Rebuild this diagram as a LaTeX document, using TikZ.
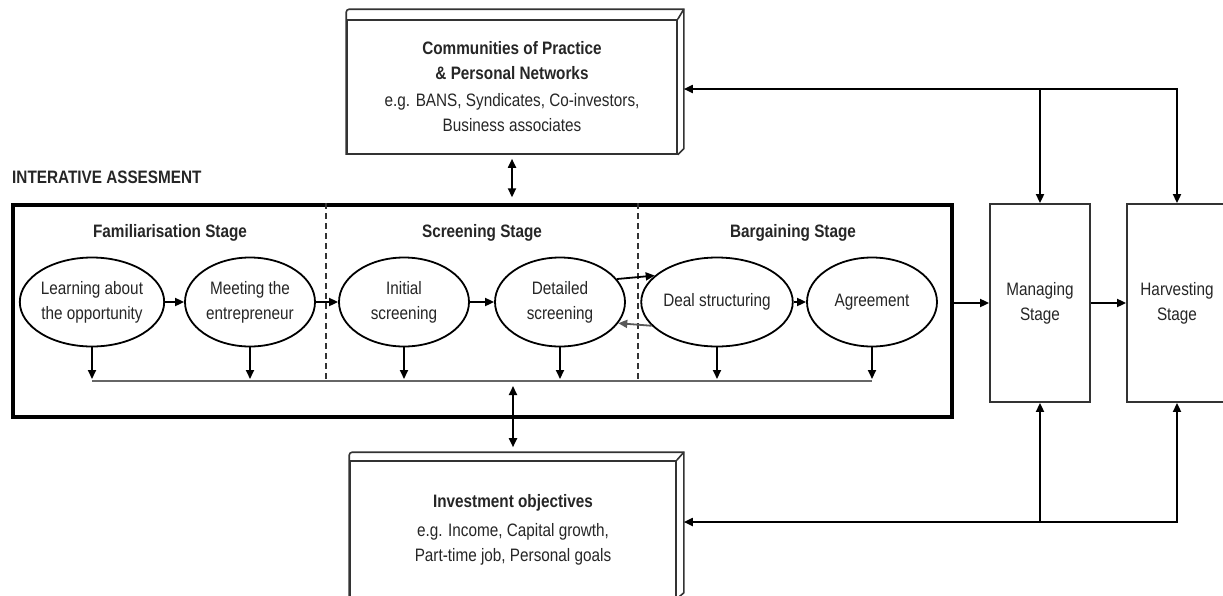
\documentclass[tikz,border=0pt]{standalone}
\usepackage{fontspec}
\setmainfont{Liberation Sans}[FakeStretch=0.85]
\usetikzlibrary{arrows.meta,shapes.geometric,calc}
\begin{document}
\begin{tikzpicture}[x=1pt,y=-1pt,
  every node/.style={font=\fontsize{18}{25}\selectfont, text=black!85},
  arr/.style={line width=1.8pt, -{Triangle[length=9pt,width=8pt]}},
  dblarr/.style={line width=1.8pt, {Triangle[length=9pt,width=8pt]}-{Triangle[length=9pt,width=8pt]}},
  stageell/.style={ellipse, draw, line width=1.8pt, minimum width=130pt, minimum height=89pt, inner sep=0pt, align=center},
  stagebox/.style={rectangle, draw=black!80, line width=1.8pt, align=center, inner sep=0pt},
  box3d/.style={rectangle, draw=black!80, line width=1.6pt, align=center, inner sep=0pt},
  bevel/.style={draw=black!80, line width=1.6pt},
  title/.style={font=\bfseries\fontsize{18}{25}\selectfont},
  divider/.style={line width=1.4pt, dash pattern=on 6pt off 4pt, black!80},
  busline/.style={line width=1.8pt, black!60},
  ]
\useasboundingbox (0,0) rectangle (1223,595);
\fill[white] (0,0) rectangle (1223,595);

% top box
\node[box3d, minimum width=330pt, minimum height=134pt] (tb) at (512,87)
  {\textbf{Communities of Practice}\\\textbf{\& Personal Networks}\\[2pt]
   e.g. BANS, Syndicates, Co-investors,\\Business associates};
\coordinate (tbR) at ($(tb.east)+(6,0)$);
\draw[bevel, rounded corners=3pt] (tb.south west) -- ($(tb.north west)+(0,-10)$)
  [sharp corners] -- ($(tb.north east)+(6,-10)$) -- ($(tb.south east)+(6,-6)$) -- (tb.south east);
\draw[bevel] (tb.north east) -- ($(tb.north east)+(6,-10)$);

% investment box
\node[box3d, minimum width=326pt, minimum height=137pt] (ib) at (513,529.5)
  {\textbf{Investment objectives}\\[4pt]
   e.g. Income, Capital growth,\\Part-time job, Personal goals};
\coordinate (ibR) at ($(ib.east)+(7,0)$);
\draw[bevel, rounded corners=3pt] (ib.south west) -- ($(ib.north west)+(0,-8)$)
  [sharp corners] -- ($(ib.north east)+(7,-8)$) -- ($(ib.south east)+(7,-6)$) -- (ib.south east);
\draw[bevel] (ib.north east) -- ($(ib.north east)+(7,-8)$);

% heading
\node[title, anchor=west, inner sep=0pt] (ia) at (12,177) {INTERATIVE ASSESMENT};

% main frame
\node[draw, line width=3.4pt, minimum width=939pt, minimum height=212pt, inner sep=0pt] (frame) at (482.5,311) {};

% stage titles
\node[title] (t1) at (170,233) {Familiarisation Stage};
\node[title] (t2) at (482,233) {Screening Stage};
\node[title] (t3) at (793,233) {Bargaining Stage};

% ellipses
\node[stageell] (e1) at (92,302) {Learning about\\the opportunity};
\node[stageell] (e2) at (250,302) {Meeting the\\entrepreneur};
\node[stageell] (e3) at (404,302) {Initial\\screening};
\node[stageell] (e4) at (560,302) {Detailed\\screening};
\node[stageell] (e5) at (717,302) {Deal structuring};
\node[stageell] (e6) at (872,302) {Agreement};

% feedback bus inside frame
\coordinate (busL) at (92,381);
\coordinate (busR) at (872,381);
\draw[busline] (busL) -- (busR);
\foreach \e in {e1,e2,e3,e4,e5,e6}
  \draw[arr, shorten >=2pt] (\e.south) -- (\e.south |- busL);

% dividers
\coordinate (d1) at (326,0);
\coordinate (d2) at (638,0);
\draw[divider] (d1 |- frame.north) -- (d1 |- busL);
\draw[divider] (d2 |- frame.north) -- (d2 |- busL);

% ellipse arrows
\draw[arr] (e1) -- (e2);
\draw[arr] (e2) -- (e3);
\draw[arr] (e3) -- (e4);
\draw[arr] (e4.22.5) -- (e5.157.5);
\draw[arr, black!65] (e5.-160) -- (e4.-20);
\draw[arr] (e5) -- (e6);

% managing / harvesting
\node[stagebox, minimum width=100pt, minimum height=198pt] (ms) at (1040,303) {Managing\\Stage};
\node[stagebox, minimum width=100pt, minimum height=198pt] (hs) at (1177,303) {Harvesting\\Stage};

\draw[arr] (ms.west -| frame.east) -- (ms.west);
\draw[arr] (ms.east) -- (hs.west);

% top feedback
\coordinate (tbus) at (1177,89);
\draw[dblarr] (tbR |- tbus) -- (tbus) -- (hs.north);
\draw[arr] (ms.north |- tbus) -- (ms.north);

% bottom feedback
\coordinate (bbus) at (1177,522);
\draw[dblarr] (ibR |- bbus) -- (bbus) -- (hs.south);
\draw[arr] (ms.south |- bbus) -- (ms.south);

% vertical double arrows
\draw[dblarr, shorten <=4pt, shorten >=6pt] (tb.south) -- (tb.south |- frame.north);
\draw[dblarr, shorten <=5pt, shorten >=5pt] (busL -| ib.north) -- ($(ib.north)+(0,-8)$);
\end{tikzpicture}
\end{document}
